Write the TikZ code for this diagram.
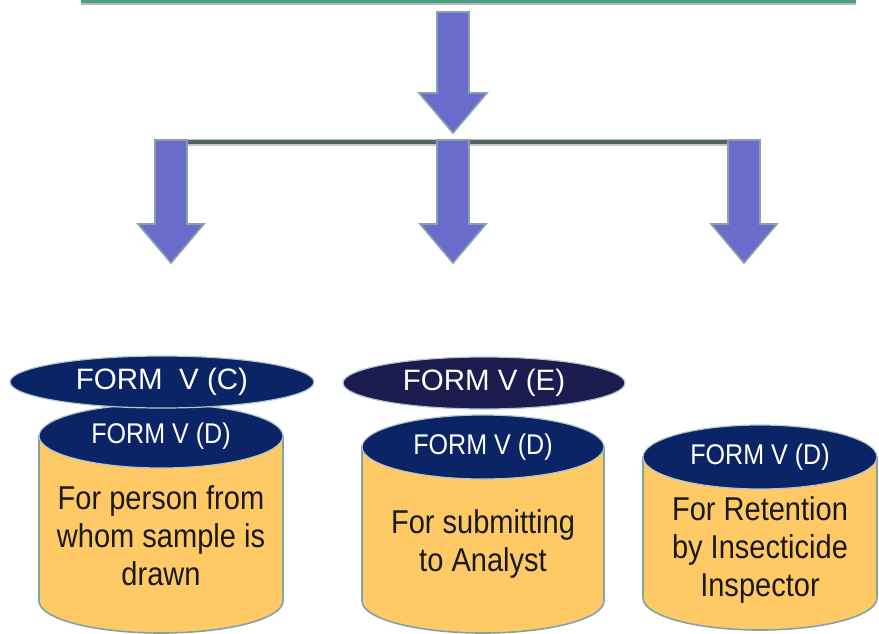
\documentclass[tikz,border=0pt]{standalone}
\usepackage{fontspec}
\setmainfont{Liberation Sans}
\newfontfamily\narrowsans[FakeStretch=0.88]{Liberation Sans}
\usepackage{tikz}
\usetikzlibrary{calc,shapes.geometric}

\definecolor{arrowblue}{HTML}{6B6BCB}
\definecolor{arrowedge}{HTML}{86A2A4}
\definecolor{lidnavy}{HTML}{0A2466}
\definecolor{capnavy}{HTML}{1C1C50}
\definecolor{canfill}{HTML}{FFC966}
\definecolor{canrim}{HTML}{7FA3A8}
\definecolor{topgreen}{HTML}{4A9F80}
\definecolor{bargray}{HTML}{4D6464}

\begin{document}
\begin{tikzpicture}[x=1pt,y=-1pt,
  blockarrow/.style={fill=arrowblue,draw=arrowedge,line width=1.6pt,line join=miter},
  canbody/.style={fill=canfill,draw=canrim,line width=1.6pt},
  lid/.style={ellipse,fill=lidnavy,draw=canrim!60,line width=1.2pt,inner sep=0pt,text=white,font=\narrowsans\fontsize{28.5}{30}\selectfont},
  formcap/.style={lid,font=\fontsize{29.5}{31}\selectfont},
  cantext/.style={align=center,text=black!90,font=\narrowsans\fontsize{33}{38}\selectfont}]
\useasboundingbox (0,0) rectangle (879,633);

% top line and bar
\draw[gray!55,line width=5pt] (81,2.5) -- (856,2.5);
\draw[topgreen,line width=3pt] (81,1.5) -- (856,1.5);
\coordinate (barL) at (163,142);
\coordinate (barR) at (752,142);
\coordinate (split) at (453,142);
\draw[gray!45,line width=7pt] (barL) -- (barR);
\draw[bargray,line width=4pt] (barL) -- (barR);

% main arrow
\draw[blockarrow] (437,12) -- (437,93) -- (419,93) -- ($(split)+(0,-9)$) -- (487,93) -- (469,93) -- (469,12) -- cycle;

% three arrows
\foreach \c/\n in {171/A,453/B,744/C} {
\coordinate (t\n) at (\c,263);
\draw[blockarrow] (\c-16,140) -- (\c-16,224) -- (\c-33,224) -- (t\n) -- (\c+33,224) -- (\c+16,224) -- (\c+16,140) -- cycle;
}

% cans
\foreach \cx/\ty/\by/\r/\n in {161/436/601/122/A,483/447/601/121/B,760/457/598/117/C} {
\draw[canbody] (\cx-\r,\ty) -- (\cx-\r,\by) arc[start angle=180,end angle=0,x radius=\r,y radius=32] -- (\cx+\r,\ty) -- cycle;
}
\node[cantext] (txtA) at (161,536) {For person from\\whom sample is\\drawn};
\node[cantext] (txtB) at (483,544) {For submitting\\to Analyst};
\node[cantext] (txtC) at (760,550) {For Retention\\by Insecticide\\Inspector};

\node[lid,minimum width=244,minimum height=64] (lidA) at (161,436) {FORM V (D)};
\node[lid,minimum width=242,minimum height=64] (lidB) at (483,447) {FORM V (D)};
\node[lid,minimum width=234,minimum height=64] (lidC) at (760,457) {FORM V (D)};

\node[formcap,minimum width=304,minimum height=52] (capC) at (162,382) {FORM\ \ V (C)};
\node[formcap,fill=capnavy,minimum width=282,minimum height=52] (capE) at (484,383) {FORM V (E)};
\end{tikzpicture}
\end{document}
